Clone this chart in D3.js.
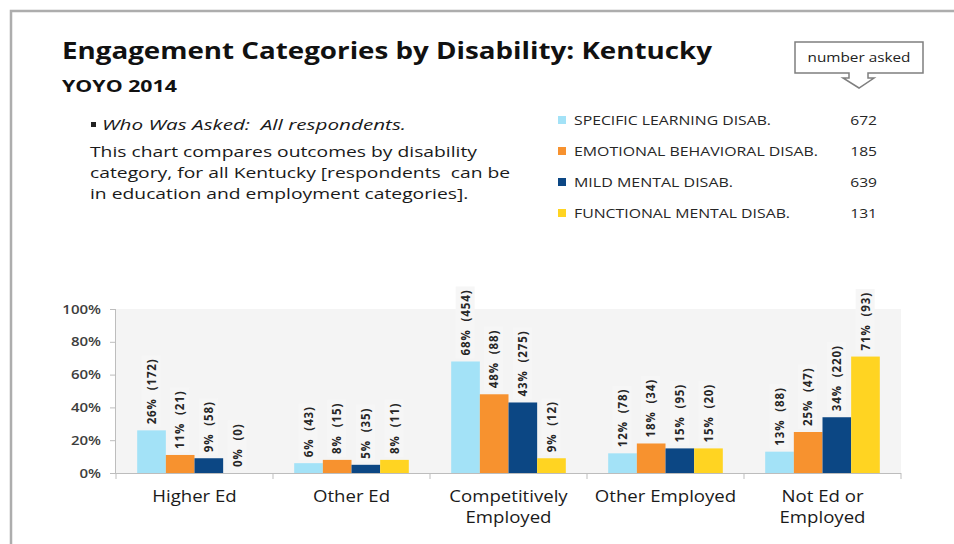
<!DOCTYPE html>
<html>
<head>
<meta charset="utf-8">
<script src="https://cdn.jsdelivr.net/npm/d3@7"></script>
<style>
	body { margin: 0; background: #fff; }
	text { font-family: "Open Sans", sans-serif; }
</style>
</head>
<body>
<div id="chart"></div>
<script>
// chart values
const categories = ["Higher Ed", "Other Ed", "Competitively Employed", "Other Employed", "Not Ed or Employed"];
const categoryLines = [["Higher Ed"], ["Other Ed"], ["Competitively", "Employed"], ["Other Employed"], ["Not Ed or", "Employed"]];
const seriesNames = ["SPECIFIC LEARNING DISAB.", "EMOTIONAL BEHAVIORAL DISAB.", "MILD MENTAL DISAB.", "FUNCTIONAL MENTAL DISAB."];
const seriesAsked = [672, 185, 639, 131];
const learningPct = [26, 6, 68, 12, 13];
const learningN = [172, 43, 454, 78, 88];
const emotionalPct = [11, 8, 48, 18, 25];
const emotionalN = [21, 15, 88, 34, 47];
const mildPct = [9, 5, 43, 15, 34];
const mildN = [58, 35, 275, 95, 220];
const functionalPct = [0, 8, 9, 15, 71];
const functionalN = [0, 11, 12, 20, 93];
const yTicks = [0, 20, 40, 60, 80, 100];

const seriesPct = [learningPct, emotionalPct, mildPct, functionalPct];
const seriesN = [learningN, emotionalN, mildN, functionalN];
const colors = ["#a3e2f7", "#f7922f", "#0c4784", "#ffd422"];

const width = 954;
const height = 544;

const svg = d3.select("#chart")
	.append("svg")
	.attr("width", width)
	.attr("height", height);

// stretch text to a measured width (the slide is stretched sideways)
const fitTo = (sel, w) => sel.attr("textLength", w).attr("lengthAdjust", "spacingAndGlyphs");
const stretchBy = (sel, k) => sel.each(function () {
	d3.select(this).attr("textLength", this.getComputedTextLength() * k).attr("lengthAdjust", "spacingAndGlyphs");
});

// slide frame
svg.append("path")
	.attr("d", `M11,${height} V11 H${width}`)
	.attr("fill", "none")
	.attr("stroke", "#adadad")
	.attr("stroke-width", 2.5);

// titles
svg.append("text").attr("x", 62).attr("y", 59)
	.attr("font-size", 23).attr("font-weight", 700).attr("fill", "#111")
	.text("Engagement Categories by Disability: Kentucky")
	.call(fitTo, 650);

svg.append("text").attr("x", 62).attr("y", 92)
	.attr("font-size", 16.5).attr("font-weight", 700).attr("fill", "#111")
	.text("YOYO 2014")
	.call(fitTo, 115);

// description
svg.append("rect").attr("x", 91).attr("y", 122).attr("width", 5).attr("height", 5).attr("fill", "#222");
svg.append("text").attr("x", 102).attr("y", 130)
	.attr("font-size", 15).attr("font-style", "italic").attr("fill", "#1a1a1a")
	.text("Who Was Asked:\u00a0 All respondents.")
	.call(fitTo, 304);

const paraLines = ["This chart compares outcomes by disability", "category, for all Kentucky [respondents\u00a0 can be", "in education and employment categories]."];
const para = svg.append("g").selectAll("text")
	.data(paraLines)
	.enter()
	.append("text")
	.attr("x", 90)
	.attr("y", (d, i) => 157 + i * 21)
	.attr("font-size", 15)
	.attr("fill", "#1a1a1a")
	.text((d) => d);
const paraK = 387 / para.nodes()[0].getComputedTextLength();
para.call(stretchBy, paraK);

// number asked callout
svg.append("path")
	.attr("d", "M795,42 H923 V73 H868 V78 H874 L859,88 L843,78 H849 V73 H795 Z")
	.attr("fill", "#fff")
	.attr("stroke", "#7f7f7f")
	.attr("stroke-width", 1.5);
svg.append("text").attr("x", 859).attr("y", 62)
	.attr("text-anchor", "middle").attr("font-size", 12.5).attr("fill", "#222")
	.text("number asked")
	.call(fitTo, 103);

// legend
const legendWidths = [197, 244, 159, 216];
const legend = svg.append("g").selectAll("g")
	.data(seriesNames)
	.enter()
	.append("g")
	.attr("transform", (d, i) => `translate(0, ${120 + i * 31})`);

legend.append("rect")
	.attr("x", 558).attr("y", -4).attr("width", 8).attr("height", 8)
	.attr("fill", (d, i) => colors[i]);
legend.append("text")
	.attr("x", 574).attr("y", 5)
	.attr("font-size", 13).attr("font-weight", 500).attr("fill", "#262626")
	.text((d) => d)
	.each(function (d, i) { d3.select(this).call(fitTo, legendWidths[i]); });
legend.append("text")
	.attr("x", 877).attr("y", 5)
	.attr("text-anchor", "end")
	.attr("font-size", 13).attr("font-weight", 500).attr("fill", "#262626")
	.text((d, i) => seriesAsked[i])
	.call(stretchBy, 1.2);

// plot
const plot = { left: 116, right: 901, top: 309, bottom: 473 };

const x0 = d3.scaleBand()
	.domain(categories)
	.range([plot.left, plot.right])
	.paddingInner(0.27)
	.paddingOuter(0.135);

const x1 = d3.scaleBand()
	.domain(d3.range(seriesNames.length))
	.range([0, x0.bandwidth()]);

const y = d3.scaleLinear().domain([0, 100]).range([plot.bottom, plot.top]);

svg.append("rect")
	.attr("x", plot.left).attr("y", plot.top)
	.attr("width", plot.right - plot.left).attr("height", plot.bottom - plot.top)
	.attr("fill", "#f4f4f4");

// y axis
const yAxis = svg.append("g")
	.attr("transform", `translate(${plot.left},0)`)
	.call(d3.axisLeft(y).tickValues(yTicks).tickSize(6).tickPadding(9).tickFormat((d) => d + "%"));
yAxis.select(".domain").attr("stroke", "#bdbdbd").attr("d", `M-0.5,${plot.top}V${plot.bottom}`);
yAxis.selectAll(".tick line").attr("stroke", "#bdbdbd");
yAxis.selectAll(".tick text")
	.attr("font-family", "Open Sans, sans-serif")
	.attr("font-size", 12.5)
	.attr("font-weight", 600)
	.attr("fill", "#3d3d3d")
	.call(stretchBy, 1.2);

// x axis with ticks between categories
const step = x0.step();
const boundaries = d3.range(categories.length + 1).map((i) => plot.left + i * step);
svg.append("line")
	.attr("x1", plot.left - 6).attr("x2", plot.right)
	.attr("y1", plot.bottom + 0.5).attr("y2", plot.bottom + 0.5)
	.attr("stroke", "#bdbdbd");
svg.append("g").selectAll("line")
	.data(boundaries)
	.enter()
	.append("line")
	.attr("x1", (d) => d).attr("x2", (d) => d)
	.attr("y1", plot.bottom).attr("y2", plot.bottom + 6)
	.attr("stroke", "#bdbdbd");

// bars
const barData = [];
categories.forEach((c, ci) => {
	seriesNames.forEach((s, si) => {
		barData.push({ cat: c, series: si, pct: seriesPct[si][ci], n: seriesN[si][ci] });
	});
});

svg.append("g").selectAll("rect")
	.data(barData)
	.enter()
	.append("rect")
	.attr("x", (d) => x0(d.cat) + x1(d.series))
	.attr("y", (d) => y(d.pct))
	.attr("width", x1.bandwidth())
	.attr("height", (d) => y(0) - y(d.pct))
	.attr("fill", (d) => colors[d.series]);

// data labels, rotated
const labels = svg.append("g").selectAll("g")
	.data(barData)
	.enter()
	.append("g")
	.attr("transform", (d) => `translate(${x0(d.cat) + x1(d.series) + x1.bandwidth() / 2}, ${y(d.pct) - 6}) rotate(-90)`);

labels.append("rect").attr("class", "label-bg");
labels.append("text")
	.attr("dy", "0.36em")
	.attr("font-family", "DejaVu Sans, sans-serif")
	.attr("font-size", 11.5)
	.attr("font-weight", 700)
	.attr("letter-spacing", 0.9)
	.attr("fill", "#262626")
	.text((d) => `${d.pct}%\u00a0 (${d.n})`);
labels.each(function () {
	const g = d3.select(this);
	const b = g.select("text").node().getBBox();
	g.select("rect")
		.attr("x", b.x - 3).attr("y", b.y - 2)
		.attr("width", b.width + 6).attr("height", b.height + 4)
		.attr("fill", "#f6f6f6");
});

// category labels
const catLabels = svg.append("g").selectAll("text")
	.data(categories)
	.enter()
	.append("text")
	.attr("x", (d) => x0(d) + x0.bandwidth() / 2)
	.attr("y", 502)
	.attr("text-anchor", "middle")
	.attr("font-size", 15.5)
	.attr("fill", "#1a1a1a");
catLabels.each(function (d, i) {
	d3.select(this).selectAll("tspan")
		.data(categoryLines[i])
		.enter()
		.append("tspan")
		.attr("x", x0(d) + x0.bandwidth() / 2)
		.attr("dy", (t, j) => (j === 0 ? 0 : 21))
		.text((t) => t);
});
catLabels.selectAll("tspan").each(function () {
	d3.select(this).attr("textLength", this.getComputedTextLength() * 1.2).attr("lengthAdjust", "spacingAndGlyphs");
});
</script>
</body>
</html>
